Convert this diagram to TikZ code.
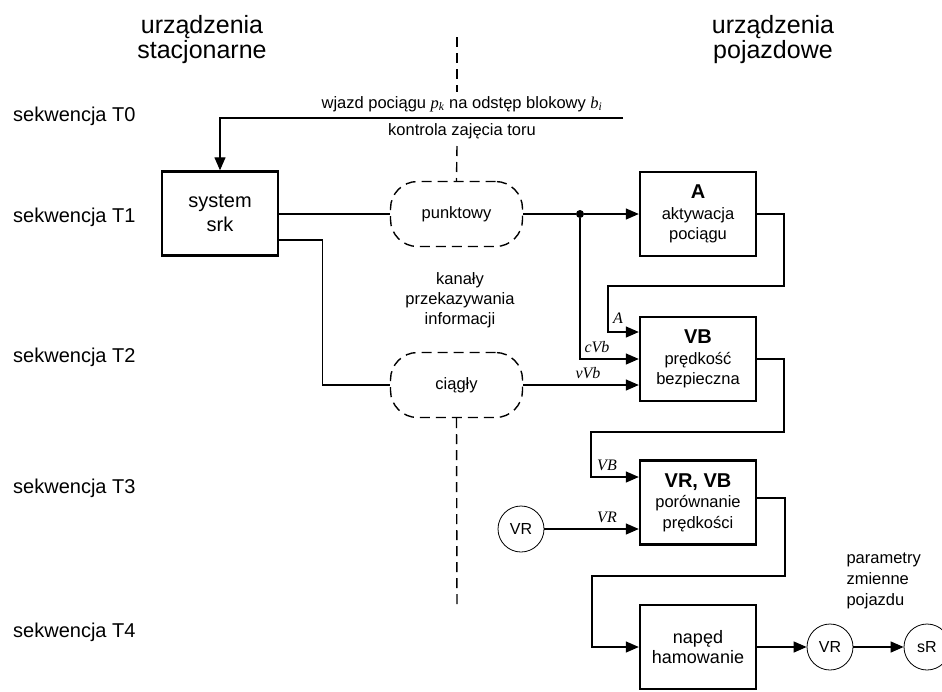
\documentclass[tikz,border=0pt]{standalone}
\usepackage{fontspec}
\setmainfont{Liberation Sans}
\newfontfamily\tms{Liberation Serif}
\usetikzlibrary{arrows.meta}
\newcommand\mi[1]{{\tms\itshape #1}}
\begin{document}
\begin{tikzpicture}[x=1pt,y=-1pt,
  conn/.style={line width=1.3pt},
  arr/.style={conn,-{Triangle[length=13pt,width=11pt]}},
  box/.style={draw,line width=2.4pt,minimum width=116pt,minimum height=84pt,align=center,inner sep=2pt,font=\fontsize{16.5}{20.5}\selectfont},
  chan/.style={draw,line width=1.4pt,dash pattern=on 10pt off 6pt,rounded corners=27pt,minimum width=132pt,minimum height=65pt,font=\fontsize{16.5}{20}\selectfont},
  circ/.style={draw,circle,line width=0.8pt,minimum size=46pt,inner sep=0pt,font=\fontsize{16}{18}\selectfont},
  seq/.style={anchor=west,inner sep=0pt,font=\fontsize{20}{24}\selectfont},
  hdr/.style={align=center,font=\fontsize{25}{25}\selectfont},
  lbl/.style={font=\fontsize{16.5}{20}\selectfont},
  il/.style={inner sep=1pt,font=\fontsize{16}{18}\selectfont\tms\itshape},
  dl/.style={line width=1.4pt,dash pattern=on 10pt off 6pt}]
\useasboundingbox (0,0) rectangle (942,691);

% headers
\node[hdr] (hl) at (202,40) {urządzenia\\stacjonarne};
\node[hdr] (hr) at (773,40) {urządzenia\\pojazdowe};

% sequence labels
\node[seq] (s0) at (13,116) {sekwencja T0};
\node[seq] (s1) at (13,217) {sekwencja T1};
\node[seq] (s2) at (13,357) {sekwencja T2};
\node[seq] (s3) at (13,488) {sekwencja T3};
\node[seq] (s4) at (13,632) {sekwencja T4};

% boxes
\node[box,font=\fontsize{20}{24}\selectfont] (srk) at (220,213.5) {system\\srk};
\node[box] (A) at (698,214) {{\fontsize{20}{20}\selectfont\bfseries A}\\aktywacja\\pociągu};
\node[box] (VB) at (698,359) {{\fontsize{20}{20}\selectfont\bfseries VB}\\prędkość\\bezpieczna};
\node[box] (VRVB) at (698,502.5) {{\fontsize{20}{20}\selectfont\bfseries VR, VB}\\porównanie\\prędkości};
\node[box,font=\fontsize{18}{20}\selectfont] (nap) at (698,647) {napęd\\hamowanie};

% channels
\node[chan] (punkt) at (456.5,214) {punktowy};
\node[chan] (ciag) at (456.5,385) {ciągły};
\node[lbl,align=center] (kan) at (460,300) {kanały\\przekazywania\\informacji};

% circles
\node[circ] (vrL) at (521,529) {VR};
\node[circ] (vrR) at (830,647) {VR};
\node[circ] (sR) at (927,647) {sR};
\node[lbl,align=left,anchor=west,font=\fontsize{16.5}{21}\selectfont] (par) at (843,581) {parametry\\zmienne\\pojazdu};

% top texts
\node[lbl] (wj) at (462,104) {wjazd pociągu \mi{p}\textsubscript{\mi{k}} na odstęp blokowy \mi{b}\textsubscript{\mi{i}}};
\node[lbl] (kz) at (462,131) {kontrola zajęcia toru};

% dashed divider
\coordinate (d0) at (457,37);
\coordinate (d1) at (457,92);
\coordinate (d2) at (457,146);
\coordinate (d3) at (457,610);
\draw[dl] (d0) -- (d1);
\draw[dl] (d2) -- (punkt.north);
\draw[dl] (ciag.south) -- (d3);

% T0 line
\coordinate (t0) at (623,118);
\draw[arr] (t0) -| (srk.north);

% srk to channels
\draw[conn] (srk.east |- punkt.west) -- (punkt.west);
\draw[conn] ([yshift=-26.5pt]srk.east) -- ++(43,0) |- (ciag.west);

% punktowy to A and VB
\node[circle,fill,inner sep=0pt,minimum size=8pt] (j) at (580,214) {};
\draw[conn] (punkt.east) -- (j);
\draw[arr] (j) -- (A.west);
\draw[arr] (j) |- (VB.west);
\draw[arr] (ciag.east) -- (ciag.east -| VB.west);
\node[il] (lcvb) at (597,347) {cVb};
\node[il] (lvvb) at (588,373) {vVb};

% A to VB
\coordinate (a1) at (784,286);
\coordinate (a2) at (608,286);
\draw[arr] (A.east) -| (a1) -- (a2) |- ([yshift=27pt]VB.west);
\node[il] (la) at (618,318) {A};

% VB to VRVB
\coordinate (b1) at (784,432);
\coordinate (b2) at (591,432);
\draw[arr] (VB.east) -| (b1) -- (b2) |- ([yshift=25.5pt]VRVB.west);
\node[il] (lvb) at (607,465) {VB};

% VR left to VRVB
\draw[arr] (vrL.east) -- (vrL.east -| VRVB.west);
\node[il] (lvr) at (607,517) {VR};

% VRVB to napęd
\coordinate (c1) at (785,576);
\coordinate (c2) at (592,576);
\draw[arr] ([yshift=4.5pt]VRVB.east) -| (c1) -- (c2) |- (nap.west);

% napęd to circles
\draw[arr] (nap.east) -- (vrR.west);
\draw[arr] (vrR.east) -- (sR.west);
\end{tikzpicture}
\end{document}
